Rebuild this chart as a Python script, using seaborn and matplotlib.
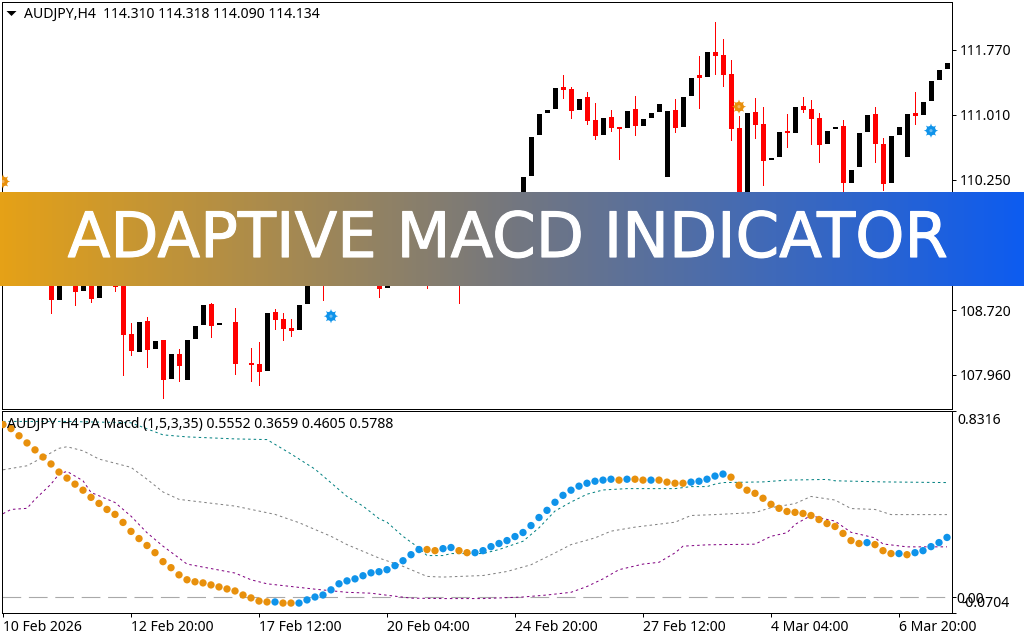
import matplotlib
matplotlib.use("Agg")
import matplotlib.pyplot as plt
import matplotlib.patheffects as pe
from matplotlib.colors import LinearSegmentedColormap
import numpy as np
import pandas as pd
import seaborn as sns

# candles, split by colour. hidden ones behind the banner are guesses
down_x = [6, 9, 11, 14, 15, 16, 18, 20, 22, 26, 29, 31, 32, 34, 35, 36, 40, 47, 53, 57,
          70, 71, 73, 74, 76, 77, 79, 84, 87, 89, 90, 91, 92, 94, 95, 98, 100, 101, 102, 105, 109, 110, 114]
down_open = [109.198, 109.198, 109.15, 109.14, 109.0, 108.438, 108.59, 108.368, 108.205, 108.789, 108.579,
             108.099, 108.088, 108.696, 108.614, 108.508, 109.35, 109.15, 109.3, 109.35,
             111.337, 111.314, 111.221, 110.952, 110.987, 110.87, 111.08, 111.069, 111.478, 111.747, 111.712,
             111.489, 110.858, 111.045, 110.905, 110.823, 111.115, 111.08, 110.975, 110.882, 111.022, 110.671, 111.034]
down_close = [108.84, 108.933, 108.848, 108.988, 108.427, 108.24, 108.251, 107.901, 108.064, 108.532, 108.088,
              108.076, 107.994, 108.602, 108.497, 108.473, 109.2, 108.964, 109.2, 109.2,
              111.302, 111.057, 110.94, 110.765, 110.858, 110.846, 110.882, 110.858, 111.443, 111.7, 111.478,
              110.846, 109.84, 110.893, 110.472, 110.8, 111.069, 110.963, 110.659, 110.215, 110.671, 110.203, 110.998]
down_high = [109.29, 109.25, 109.2, 109.2, 109.034, 108.567, 108.637, 108.368, 108.263, 108.801, 108.742,
             108.275, 108.345, 108.731, 108.684, 108.614, 109.5, 109.2, 109.4, 109.45,
             111.478, 111.337, 111.279, 111.15, 111.069, 110.87, 111.232, 111.197, 111.7, 112.097, 111.899,
             111.653, 110.998, 111.209, 111.104, 111.022, 111.221, 111.186, 111.034, 110.952, 111.104, 110.741, 111.279]
down_low = [108.684, 108.777, 108.812, 108.941, 107.959, 108.193, 108.052, 107.69, 107.889, 108.403, 107.971,
            107.889, 107.842, 108.497, 108.368, 108.415, 108.836, 108.871, 108.976, 108.801,
            111.209, 110.975, 110.905, 110.73, 110.823, 110.496, 110.776, 110.811, 111.092, 111.489, 111.349,
            110.718, 109.7, 110.741, 110.18, 110.636, 111.045, 110.671, 110.461, 110.017, 110.461, 110.122, 110.905]

up_x = [0, 1, 2, 3, 4, 5, 7, 8, 10, 12, 13, 17, 19, 21, 23, 24, 25, 27, 33, 37, 38, 39, 41, 42, 43, 44, 45, 46,
        48, 49, 50, 51, 52, 54, 55, 56, 58, 59, 60, 61, 62, 63, 64, 65, 66, 67, 68, 69, 72, 75, 78, 80, 81, 82, 83,
        85, 86, 88, 93, 96, 97, 99, 103, 104, 106, 107, 108, 111, 112, 113, 115, 116, 117, 118]
up_open = [109.7, 109.6, 109.5, 109.4, 109.35, 109.3, 108.84, 109.2, 108.941, 108.859, 109.15, 108.228, 108.263,
           107.912, 107.901, 108.38, 108.543, 108.543, 108.006, 108.485, 108.789, 109.1, 109.2, 109.25, 109.3, 109.3,
           109.25, 109.2, 108.976, 109.15, 109.2, 109.25, 109.25, 109.2, 109.2, 109.25, 109.25, 109.2, 109.25, 109.35,
           109.5, 109.65, 109.8, 110.0, 110.297, 110.776, 111.034, 111.08, 111.069, 110.776, 110.858, 110.882, 110.975,
           111.045, 110.274, 110.87, 111.232, 111.454, 109.958, 110.484, 110.519, 110.8, 110.671, 110.846, 110.215,
           110.391, 110.811, 110.215, 110.776, 110.519, 111.01, 111.174, 111.419, 111.548]
up_close = [109.85, 109.75, 109.65, 109.55, 109.45, 109.42, 109.2, 109.3, 109.15, 109.1, 109.3, 108.579, 108.356,
            108.205, 108.368, 108.532, 108.777, 108.567, 108.684, 108.777, 109.1, 109.3, 109.35, 109.4, 109.45, 109.4,
            109.35, 109.3, 109.15, 109.3, 109.35, 109.4, 109.35, 109.3, 109.35, 109.4, 109.35, 109.3, 109.4, 109.55,
            109.7, 109.85, 110.0, 110.285, 110.753, 111.022, 111.069, 111.326, 111.197, 110.975, 111.057, 110.963,
            111.034, 111.139, 111.057, 111.221, 111.443, 111.747, 111.034, 110.507, 110.811, 111.104, 110.823, 110.87,
            110.367, 110.8, 111.01, 110.765, 110.87, 111.022, 111.162, 111.408, 111.536, 111.618]

# gear arrows on the price pane
signal_x = [0, 41, 92, 116]
signal_price = [110.227, 108.648, 111.104, 110.823]
signal_kind = ["sell", "buy", "sell", "buy"]

price_ticks = [111.77, 111.01, 110.25, 109.49, 108.72, 107.96]

# main macd dots, one per bar
macd = [0.771, 0.753, 0.721, 0.689, 0.658, 0.626, 0.595, 0.559, 0.532, 0.505, 0.478, 0.446, 0.419, 0.392, 0.37,
        0.334, 0.294, 0.262, 0.231, 0.199, 0.159, 0.132, 0.1, 0.078, 0.069, 0.064, 0.055, 0.046, 0.037, 0.028, 0.01,
        -0.003, -0.017, -0.021, -0.021, -0.026, -0.026, -0.026, -0.012, 0.001, 0.01, 0.033, 0.06, 0.073, 0.082,
        0.096, 0.109, 0.114, 0.123, 0.141, 0.163, 0.19, 0.213, 0.213, 0.208, 0.217, 0.222, 0.208, 0.199, 0.199, 0.208,
        0.226, 0.24, 0.253, 0.271, 0.289, 0.32, 0.356, 0.388, 0.424, 0.455, 0.478, 0.496, 0.509, 0.518, 0.523, 0.527,
        0.523, 0.527, 0.527, 0.523, 0.523, 0.523, 0.514, 0.509, 0.509, 0.514, 0.518, 0.527, 0.541, 0.55, 0.536, 0.5,
        0.478, 0.464, 0.442, 0.415, 0.397, 0.383, 0.379, 0.374, 0.365, 0.347, 0.329, 0.316, 0.285, 0.253, 0.24, 0.244,
        0.235, 0.208, 0.195, 0.195, 0.19, 0.199, 0.208, 0.226, 0.244, 0.267]
blue_bars = [34] + list(range(37, 53)) + [55, 56] + list(range(59, 77)) + [78, 81] + list(range(86, 91)) \
    + [108, 112] + list(range(114, 119))

# dotted bands, read at their bends
upper_x = [0, 8, 16, 18, 20, 23, 29, 33, 36, 39, 43, 45, 47, 48, 50, 52, 53, 55, 56, 60, 62, 65, 67, 69, 71, 73, 75,
           78, 84, 86, 88, 89, 90, 95, 98, 103, 104, 110, 118]
upper = [0.785, 0.785, 0.779, 0.752, 0.725, 0.716, 0.707, 0.704, 0.64, 0.572, 0.45, 0.407, 0.351, 0.335, 0.272, 0.22,
         0.186, 0.186, 0.195, 0.195, 0.213, 0.25, 0.31, 0.385, 0.425, 0.46, 0.479, 0.485, 0.485, 0.494, 0.494, 0.505,
         0.512, 0.515, 0.523, 0.526, 0.52, 0.515, 0.512]
middle_x = [0, 3, 5, 7, 8, 10, 12, 16, 18, 20, 22, 29, 34, 37, 41, 43, 45, 47, 50, 53, 55, 60, 63, 66, 69, 71, 74, 76,
            79, 84, 86, 89, 94, 96, 99, 101, 104, 106, 109, 111, 118]
middle = [0.569, 0.587, 0.625, 0.665, 0.672, 0.654, 0.617, 0.58, 0.527, 0.47, 0.437, 0.407, 0.37, 0.333, 0.272, 0.235,
          0.205, 0.175, 0.138, 0.093, 0.09, 0.097, 0.115, 0.145, 0.198, 0.235, 0.265, 0.295, 0.313, 0.335, 0.365,
          0.369, 0.378, 0.4, 0.418, 0.45, 0.434, 0.396, 0.392, 0.369, 0.369]
lower_x = [0, 1, 3, 4, 6, 7, 8, 10, 11, 14, 16, 18, 20, 22, 23, 29, 31, 33, 39, 43, 46, 48, 51, 55, 60, 65, 68, 71, 73,
           75, 77, 80, 82, 84, 85, 88, 94, 96, 98, 99, 101, 102, 104, 106, 109, 110, 113, 118]
lower = [0.373, 0.392, 0.397, 0.437, 0.505, 0.55, 0.562, 0.52, 0.468, 0.423, 0.362, 0.288, 0.228, 0.175, 0.148, 0.108,
         0.078, 0.06, 0.036, 0.022, 0.018, 0.009, -0.004, -0.006, -0.006, 0.001, 0.01, 0.022, 0.048, 0.082, 0.123,
         0.148, 0.156, 0.198, 0.228, 0.234, 0.237, 0.272, 0.288, 0.325, 0.365, 0.355, 0.34, 0.29, 0.265, 0.238, 0.225,
         0.225]

date_ticks = [0, 16, 32, 48, 64, 80, 96, 112]
date_labels = ["10 Feb 2026", "12 Feb 20:00", "17 Feb 12:00", "20 Feb 04:00",
               "24 Feb 20:00", "27 Feb 12:00", "4 Mar 04:00", "6 Mar 20:00"]

ORANGE = "#e8900c"
BLUE = "#0f93ea"
W, H = 1024, 640
PX = 72 / 100  # one pixel in points at dpi 100
FS = 10.1

sns.set_theme(style="white")
plt.rcParams["font.family"] = ["Noto Sans", "DejaVu Sans"]
plt.rcParams["axes.linewidth"] = PX
plt.rcParams["axes.edgecolor"] = "black"


def pane(left, top, right, bottom):
    return fig.add_axes([left / W, 1 - bottom / H, (right - left) / W, (bottom - top) / H])


fig = plt.figure(figsize=(W / 100, H / 100), dpi=100, facecolor="white")
ax_price = pane(2, 2, 952, 409)
ax_macd = pane(2, 411, 952, 613)

for ax in (ax_price, ax_macd):
    ax.set_xlim(-0.125, 118.625)
    ax.yaxis.tick_right()
    ax.tick_params(axis="y", right=True, length=4 * PX, width=PX, color="black", pad=4 * PX,
                   labelsize=FS, labelcolor="black")

# price pane
ax_price.set_ylim(107.56, 112.331)
down = pd.DataFrame({"x": down_x, "open": down_open, "close": down_close, "high": down_high, "low": down_low})
up = pd.DataFrame({"x": up_x, "open": up_open, "close": up_close})
ax_price.vlines(down["x"], down["low"], down["high"], color="#ff0000", lw=PX, antialiased=False, zorder=2)
ax_price.bar(down["x"], down["open"] - down["close"], bottom=down["close"], width=0.625, color="#ff0000",
             antialiased=False, linewidth=0, zorder=3)
ax_price.bar(up["x"], up["close"] - up["open"], bottom=up["open"], width=0.625, color="black",
             antialiased=False, linewidth=0, zorder=3)

signals = pd.DataFrame({"x": signal_x, "price": signal_price, "kind": signal_kind})
sig_colors = {"sell": ORANGE, "buy": BLUE}
sns.scatterplot(data=signals, x="x", y="price", hue="kind", palette=sig_colors, marker=(8, 1, 0), s=105,
                linewidth=0, legend=False, ax=ax_price, zorder=4)
sns.scatterplot(data=signals, x="x", y="price", hue="kind", palette=sig_colors, marker="o", s=48,
                linewidth=0, legend=False, ax=ax_price, zorder=5)
sns.scatterplot(data=signals, x="x", y="price", hue="kind", palette={"sell": "#f2b562", "buy": "#6cbcf2"},
                marker="o", s=5, linewidth=0, legend=False, ax=ax_price, zorder=6)
ax_price.set_xlabel("")
ax_price.set_ylabel("")
ax_price.set_xticks([])
ax_price.set_yticks(price_ticks, [f"{p:.3f}" for p in price_ticks])

# macd pane
ax_macd.set_ylim(-0.0704, 0.8316)
ax_macd.axhline(0, color="#a9a9a9", lw=1.1 * PX, dashes=(17, 7), zorder=1)
for xs, ys, col in ((upper_x, upper, "#008080"), (middle_x, middle, "#808080"), (lower_x, lower, "#800080")):
    line = sns.lineplot(x=xs, y=ys, color=col, linewidth=PX, errorbar=None, legend=False, ax=ax_macd,
                        zorder=2).lines[-1]
    line.set_dashes((2.5, 3))

dots = pd.DataFrame({"x": np.arange(len(macd)), "macd": macd})
dots["side"] = np.where(dots["x"].isin(blue_bars), "up", "down")
sns.scatterplot(data=dots, x="x", y="macd", hue="side", palette={"up": BLUE, "down": ORANGE},
                s=28, linewidth=0, legend=False, ax=ax_macd, zorder=3)
ax_macd.set_xlabel("")
ax_macd.set_ylabel("")
ax_macd.set_xticks(date_ticks, date_labels, ha="left")
ax_macd.tick_params(axis="x", bottom=True, length=4 * PX, width=PX, color="black", pad=3 * PX,
                    labelsize=FS, labelcolor="black")
ax_macd.tick_params(axis="y", pad=0)
ax_macd.set_yticks([-0.0704, 0, 0.8316], ["", "0.00", ""])
ax_macd.get_yticklabels()[1].set_fontweight("bold")
to_right = ax_macd.get_yaxis_transform()
ax_macd.annotate("-0.0704", xy=(1, 0), xycoords=to_right, xytext=(6.5, -4.8), textcoords="offset points",
                 va="center", fontsize=FS, color="black", annotation_clip=False)
ax_macd.annotate("0.8316", xy=(1, 0.8316), xycoords=to_right, xytext=(3.6, -7.2), textcoords="offset points",
                 va="center", fontsize=FS, color="black", annotation_clip=False)

# header lines
fig.text(24 / W, 1 - 14 / H, "AUDJPY,H4  114.310 114.318 114.090 114.134", fontsize=FS, va="center", color="black")
fig.text(7 / W, 1 - 424 / H, "AUDJPY H4 PA Macd (1,5,3,35) 0.5552 0.3659 0.4605 0.5788", fontsize=FS, va="center",
         color="black", zorder=5)
ax_price.plot([11 / W], [1 - 13 / H], marker=[(-1, 0.5), (1, 0.5), (0, -0.5)], ms=7.2, color="black", clip_on=False,
              mew=0, transform=fig.transFigure)

# banner across the chart
ax_banner = fig.add_axes([0, 1 - 285.7 / H, 1, 93.7 / H], zorder=10)
banner_cmap = LinearSegmentedColormap.from_list("banner", ["#e5a117", "#74777f", "#0d5cf0"])
ax_banner.imshow(np.linspace(0, 1, W).reshape(1, -1), cmap=banner_cmap, aspect="auto", extent=(0, 1, 0, 1))
ax_banner.axis("off")
ax_banner.text(507.5 / W, 0.306, "ADAPTIVE MACD INDICATOR", color="white", ha="center", va="baseline",
               fontsize=45, family="DejaVu Sans", transform=ax_banner.transAxes,
               path_effects=[pe.withStroke(linewidth=0.8, foreground="white")])

fig.savefig("out.png", dpi=100)
